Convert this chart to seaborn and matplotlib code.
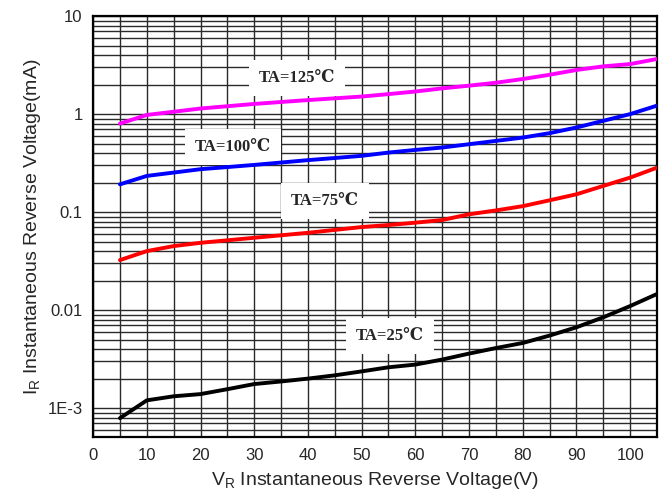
import numpy as np
import pandas as pd
import matplotlib
matplotlib.use("Agg")
import matplotlib.pyplot as plt
import seaborn as sns
from matplotlib.ticker import LogLocator, FixedLocator, NullFormatter

# reverse voltage (V)
v_hot = [5, 10, 20, 30, 40, 50, 55, 60, 65, 70, 75, 80, 85, 90, 95, 100, 105]
ir_125 = [0.80, 0.98, 1.14, 1.27, 1.39, 1.51, 1.60, 1.70, 1.83, 1.95, 2.09, 2.28, 2.52, 2.82, 3.07, 3.24, 3.65]
ir_100 = [0.192, 0.234, 0.274, 0.303, 0.339, 0.375, 0.405, 0.431, 0.456, 0.493, 0.533, 0.576, 0.639, 0.730, 0.854, 1.0, 1.22]

v_75 = [5, 10, 15, 20, 30, 40, 50, 55, 60, 65, 70, 75, 80, 85, 90, 95, 100, 105]
ir_75 = [0.0324, 0.040, 0.045, 0.0486, 0.0547, 0.0615, 0.0704, 0.0738, 0.078, 0.083, 0.095, 0.104, 0.115, 0.132, 0.152, 0.185, 0.225, 0.284]

v_25 = [5, 10, 15, 20, 25, 30, 35, 40, 45, 50, 55, 60, 65, 70, 75, 80, 85, 90, 95, 100, 105]
ir_25 = [7.9e-4, 1.20e-3, 1.32e-3, 1.39e-3, 1.56e-3, 1.76e-3, 1.87e-3, 2.0e-3, 2.16e-3, 2.37e-3, 2.61e-3,
         2.78e-3, 3.13e-3, 3.60e-3, 4.10e-3, 4.62e-3, 5.50e-3, 6.68e-3, 8.45e-3, 0.011, 0.0146]

series = ["TA=125℃", "TA=100℃", "TA=75℃", "TA=25℃"]
colors = ["#ff00ff", "#0000ff", "#ff0000", "#000000"]

y_ticks = [1e-3, 0.01, 0.1, 1, 10]
y_tick_labels = ["1E-3", "0.01", "0.1", "1", "10"]
x_ticks = [0, 10, 20, 30, 40, 50, 60, 70, 80, 90, 100]

df = pd.concat([
    pd.DataFrame({"V": v_hot, "I": ir_125, "T": series[0]}),
    pd.DataFrame({"V": v_hot, "I": ir_100, "T": series[1]}),
    pd.DataFrame({"V": v_75, "I": ir_75, "T": series[2]}),
    pd.DataFrame({"V": v_25, "I": ir_25, "T": series[3]}),
])

sns.set_style("white")
plt.rcParams["font.family"] = ["Liberation Sans", "DejaVu Sans"]

fig = plt.figure(figsize=(6.65, 5.03), dpi=100)
ax = fig.add_axes([0.140, 0.131, 0.848, 0.837])

sns.lineplot(data=df, x="V", y="I", hue="T", palette=dict(zip(series, colors)),
             linewidth=2.8, legend=False, ax=ax, zorder=4)

ax.set_yscale("log")
ax.set_xlim(0, 105)
ax.set_ylim(5.06e-4, 10)

ax.xaxis.set_major_locator(FixedLocator(x_ticks))
ax.xaxis.set_minor_locator(FixedLocator(np.arange(5, 105, 10)))
ax.yaxis.set_major_locator(FixedLocator(y_ticks))
ax.set_yticklabels(y_tick_labels)
ax.yaxis.set_minor_locator(LogLocator(base=10, subs=np.arange(2, 10), numticks=20))
ax.yaxis.set_minor_formatter(NullFormatter())

ax.grid(True, which="both", color="#2a2a2a", linewidth=1.0)
ax.set_axisbelow(True)
ax.tick_params(axis="y", which="both", direction="out", length=4, width=1, labelsize=12, color="black")
ax.tick_params(axis="x", which="both", direction="in", length=0, labelsize=12, pad=8)
for s in ax.spines.values():
    s.set_color("black")
    s.set_linewidth(1.6)

ax.set_xlabel(r"$\mathregular{V_R}$ Instantaneous Reverse Voltage(V)", fontsize=14, labelpad=5)
ax.set_ylabel(r"$\mathregular{I_R}$ Instantaneous Reverse Voltage(mA)", fontsize=14, labelpad=3)

# curve labels on white boxes
label_pos = [(38, 2.35), (26, 0.46), (43.2, 0.13), (55.3, 5.5e-3)]
for name, (xv, yv) in zip(series, label_pos):
    ax.text(xv, yv, name, ha="center", va="center", fontsize=12, fontweight="bold",
            family=["Liberation Serif", "DejaVu Serif", "DejaVu Sans"], zorder=3,
            bbox=dict(boxstyle="square,pad=0.6", facecolor="white", edgecolor="none"))

fig.savefig("out.png", dpi=100)
